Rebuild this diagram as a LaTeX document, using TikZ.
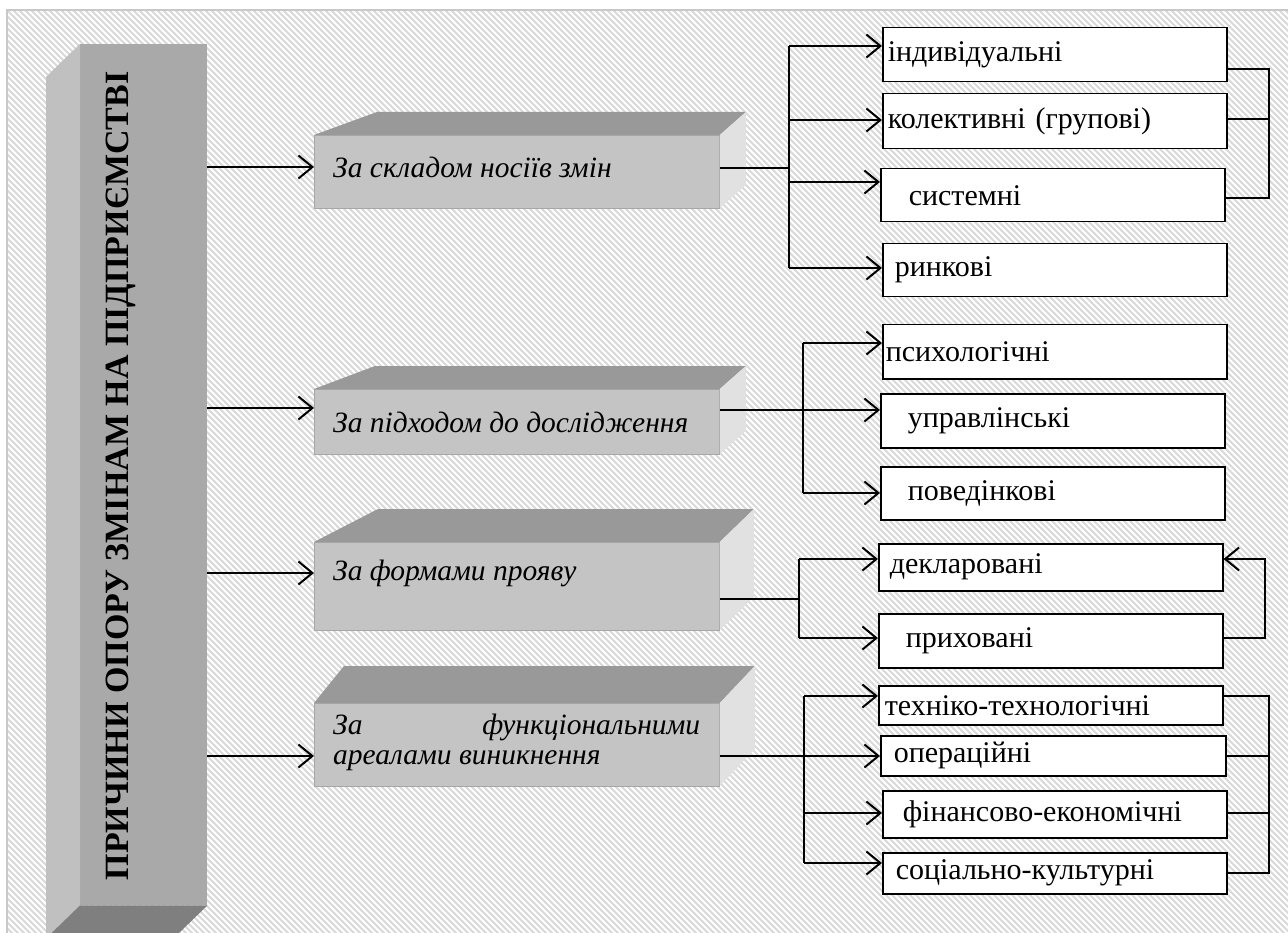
\documentclass[tikz,border=0pt]{standalone}
\usepackage{fontspec}
\setmainfont{LiberationSerif}[
  Extension=.ttf,
  UprightFont=*-Regular,
  BoldFont=*-Bold,
  ItalicFont=*-Italic,
  BoldItalicFont=*-BoldItalic]
\usetikzlibrary{arrows.meta,calc}

\definecolor{bggray}{HTML}{D9D9D9}
\definecolor{bgedge}{HTML}{C8C8C8}
\definecolor{barfront}{HTML}{A9A9A9}
\definecolor{barside}{HTML}{C0C0C0}
\definecolor{barbottom}{HTML}{7F7F7F}
\definecolor{boxfront}{HTML}{C4C4C4}
\definecolor{boxtop}{HTML}{999999}
\definecolor{boxside}{HTML}{E1E1E1}

\tikzset{
  conn/.style={draw=black, line width=2pt},
  arr/.style={conn, -{Straight Barb[length=14pt,width=23pt,line width=2pt]}},
  rbox/.style={draw=black, fill=white, line width=1.5pt, inner xsep=0pt,
    inner ysep=0pt, align=left, anchor=north west,
    font=\fontsize{30}{32}\selectfont},
  front/.style={fill=boxfront, draw=boxfront!85!black, line width=0.8pt,
    anchor=north west, inner sep=0pt},
  topface/.style={fill=boxtop},
  sideface/.style={fill=boxside},
  cattext/.style={anchor=west, inner sep=0pt, align=left,
    font=\itshape\fontsize{29.5}{30}\selectfont},
}

% a three-dimensional category box: name, front top-left, width, height,
% top-left depth offset, top-right depth offset, side face height
\newcommand\catbox[7]{%
  \node[front, minimum width=#3pt, minimum height=#4pt] (#1) at (#2) {};
  \fill[topface] (#1.north west) -- ++(#5) -- ($(#1.north east)+(#6)$)
    -- (#1.north east) -- cycle;
  \fill[sideface] (#1.north east) -- ++(#6) -- ($(#1.north east)+(#6)+(0,#7)$)
    -- ($(#1.north east)+(0,#7)$) -- cycle;
}

\begin{document}
\begin{tikzpicture}[x=1pt,y=-1pt]
\useasboundingbox (0,0) rectangle (1288,933);

% striped backdrop
\fill[bggray] (7,10) rectangle (1288,933);
\begin{scope}
  \clip (7,10) rectangle (1288,933);
  \foreach \k in {-160,...,216}
    \draw[white, line width=1.8pt] (\k*6,0) -- ++(940,940);
\end{scope}
\draw[bgedge, line width=2pt] (7,933) -- (7,10) -- (1288,10);

% the tall left block
\begin{scope}
  \clip (0,0) rectangle (1288,933);
  \node[fill=barfront, anchor=north west, inner sep=0pt,
        minimum width=127pt, minimum height=861pt] (bar) at (80,44) {};
  \fill[barside] (bar.north west) -- ++(-34,33)
    -- ($(bar.south west)+(-34,33)$) -- (bar.south west) -- cycle;
  \fill[barbottom] (bar.south west) -- (bar.south east)
    -- ++(-34,33) -- ($(bar.south west)+(-34,33)$) -- cycle;
\end{scope}
\node[rotate=90, inner sep=0pt, font=\bfseries\fontsize{34}{38}\selectfont]
  (bartext) at (121,476) {ПРИЧИНИ ОПОРУ ЗМІНАМ НА ПІДПРИЄМСТВІ};

% category boxes
\catbox{b1}{314,135}{405}{73}{63,-23}{26,-23}{73}
\catbox{b2}{314,389}{405}{65}{61,-23}{26,-23}{65}
\catbox{b3}{314,542}{405}{88}{64,-33}{34,-33}{88}
\catbox{b4}{314,703}{405}{83}{30,-37}{35,-37}{83}

\node[cattext] (t1) at (333,167) {За складом носіїв змін};
\node[cattext] (t2) at (333,422) {За підходом до дослідження};
\node[cattext] (t3) at (333,573) {За формами прояву};
\node[cattext, anchor=north west] (t4) at (333,714)
  {\makebox[367pt][s]{За\hfill функціональними}\\ареалами виникнення};

% result boxes
\node[rbox, text width=344pt, minimum height=54pt] (ind) at (882,27)  {\hspace*{5pt}індивідуальні};
\node[rbox, text width=344pt, minimum height=55pt] (kol) at (882,93)  {\hspace*{5pt}колективні (групові)};
\node[rbox, text width=344pt, minimum height=53pt] (sys) at (880,168) {\hspace*{28pt}системні};
\node[rbox, text width=344pt, minimum height=53pt] (rin) at (882,243) {\hspace*{12pt}ринкові};

\node[rbox, text width=344pt, minimum height=54pt] (psy) at (882,324) {\hspace*{3pt}психологічні};
\node[rbox, text width=344pt, minimum height=54pt] (upr) at (880,393) {\hspace*{27pt}управлінські};
\node[rbox, text width=344pt, minimum height=53pt] (pov) at (880,466) {\hspace*{27pt}поведінкові};

\node[rbox, text width=344pt, minimum height=47pt] (dek) at (878,543) {\hspace*{11pt}декларовані};
\node[rbox, text width=344pt, minimum height=54pt] (pri) at (878,613) {\hspace*{27pt}приховані};

\node[rbox, text width=344pt, minimum height=39pt] (teh) at (878,685) {\hspace*{6pt}техніко-технологічні};
\node[rbox, text width=345pt, minimum height=40pt] (ope) at (880,735) {\hspace*{13pt}операційні};
\node[rbox, text width=344pt, minimum height=47pt] (fin) at (882,790) {\hspace*{20pt}фінансово-економічні};
\node[rbox, text width=344pt, minimum height=41pt] (soc) at (882,852) {\hspace*{13pt}соціально-культурні};

% from the left block to the categories
\draw[arr] (bar.east |- 0,167) -- (b1.west |- 0,167);
\draw[arr] (bar.east |- 0,408) -- (b2.west |- 0,408);
\draw[arr] (bar.east |- 0,573) -- (b3.west |- 0,573);
\draw[arr] (bar.east |- 0,756) -- (b4.west |- 0,756);

% group 1
\coordinate (j1) at (789,168);
\draw[conn] (b1.east |- j1) -- (j1);
\draw[conn] (j1 |- 0,46) -- (j1 |- 0,268);
\draw[arr] (j1 |- 0,46)  -- (ind.west |- 0,46);
\draw[arr] (j1 |- 0,120) -- (kol.west |- 0,120);
\draw[arr] (j1 |- 0,182) -- (sys.west |- 0,182);
\draw[arr] (j1 |- 0,268) -- (rin.west |- 0,268);
\coordinate (r1) at (1269,69);
\draw[conn] (ind.east |- r1) -- (r1) -- (r1 |- 0,198) -- (sys.east |- 0,198);
\draw[conn] (kol.east |- 0,119) -- (r1 |- 0,119);

% group 2
\coordinate (j2) at (803,410);
\draw[arr] (b2.east |- j2) -- (upr.west |- j2);
\draw[conn] (j2 |- 0,343) -- (j2 |- 0,493);
\draw[arr] (j2 |- 0,343) -- (psy.west |- 0,343);
\draw[arr] (j2 |- 0,493) -- (pov.west |- 0,493);

% group 3
\coordinate (j3) at (799,599);
\draw[conn] (b3.east |- j3) -- (j3);
\draw[conn] (j3 |- 0,559) -- (j3 |- 0,638);
\draw[arr] (j3 |- 0,559) -- (dek.west |- 0,559);
\draw[arr] (j3 |- 0,638) -- (pri.west |- 0,638);
\coordinate (r3) at (1265,638);
\draw[arr] (pri.east |- r3) -- (r3) -- (r3 |- 0,559) -- (dek.east |- 0,559);

% group 4
\coordinate (j4) at (804,756);
\draw[arr] (b4.east |- j4) -- (ope.west |- j4);
\draw[conn] (j4 |- 0,696) -- (j4 |- 0,863);
\draw[arr] (j4 |- 0,696) -- (teh.west |- 0,696);
\draw[arr] (j4 |- 0,813) -- (fin.west |- 0,813);
\draw[arr] (j4 |- 0,863) -- (soc.west |- 0,863);
\coordinate (r4) at (1269,696);
\draw[conn] (teh.east |- r4) -- (r4) -- (r4 |- 0,873) -- (soc.east |- 0,873);
\draw[conn] (ope.east |- 0,756) -- (r4 |- 0,756);
\draw[conn] (fin.east |- 0,813) -- (r4 |- 0,813);
\end{tikzpicture}
\end{document}
